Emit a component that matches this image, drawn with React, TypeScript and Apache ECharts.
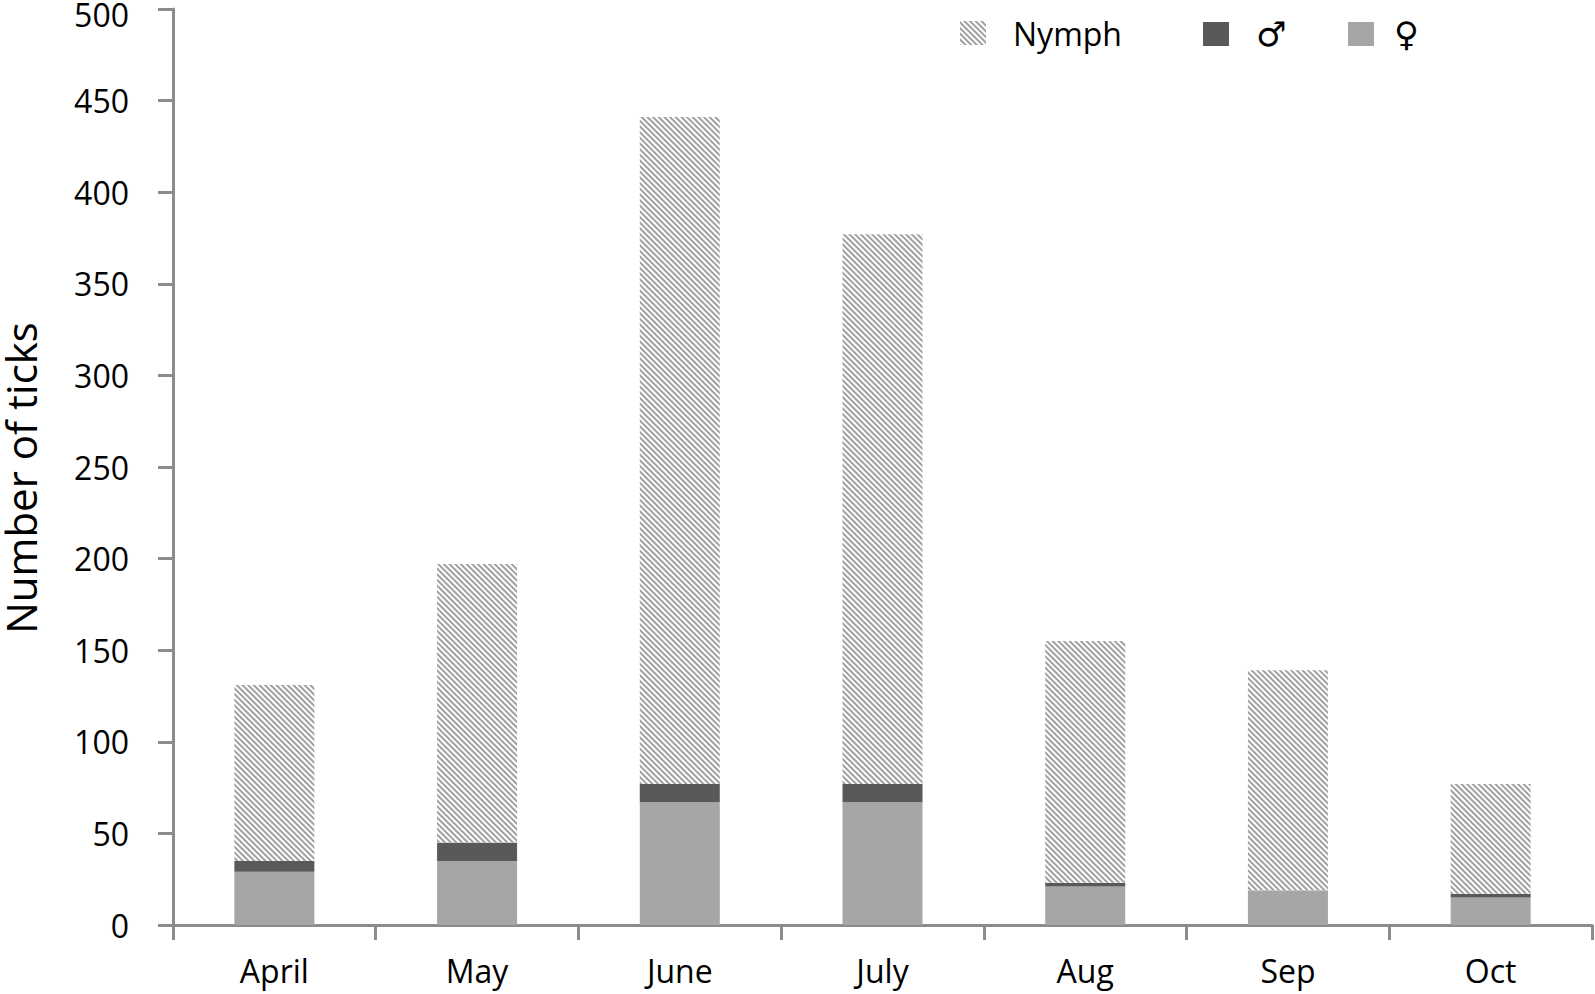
import React, { useEffect, useRef } from "react";
import * as echarts from "echarts";

const categories = ["April", "May", "June", "July", "Aug", "Sep", "Oct"];
const female = [29, 35, 67, 67, 21, 19, 15];
const male = [6, 10, 10, 10, 2, 0, 2];
const nymph = [96, 152, 364, 300, 132, 120, 60];
const legendNames = ["Nymph", "♂", "♀"];
const legendLefts = [955, 1198, 1343];

const FONT = "Open Sans";
const AXIS_COLOR = "#8c8c8c";

export default function App() {
  const ref = useRef<HTMLDivElement>(null);
  useEffect(() => {
    if (!ref.current) return;
    const chart = echarts.init(ref.current, null, { renderer: "svg" });
    const richStyles = {
      n: { fontSize: 32, fontFamily: FONT, color: "#000", padding: [0, 0, 0, 22] },
      m: { fontSize: 34, fontFamily: "DejaVu Sans", color: "#000", padding: [0, 0, 0, 22] },
      f: { fontSize: 34, fontFamily: "DejaVu Sans", color: "#000", padding: [0, 0, 0, 15] },
    };
    chart.setOption({
      animation: false,
      backgroundColor: "#ffffff",
      textStyle: { fontFamily: FONT, color: "#000" },
      grid: {
        left: 173,
        right: 3,
        top: 9,
        bottom: 69,
        containLabel: false,
        outerBoundsMode: "none",
      },
      legend: legendNames.map((name, i) => ({
        data: [name],
        left: legendLefts[i],
        top: 12,
        itemWidth: 26,
        itemHeight: 24,
        icon: "rect",
        formatter: (n: string) =>
          n === "Nymph" ? `{n|${n}}` : n === "♂" ? `{m|${n}}` : `{f|${n}}`,
        textStyle: { fontSize: 32, fontFamily: FONT, color: "#000", rich: richStyles },
      })),
      xAxis: {
        type: "category",
        data: categories,
        axisLine: { show: true, lineStyle: { color: AXIS_COLOR, width: 3 } },
        axisTick: { show: true, length: 15, lineStyle: { color: AXIS_COLOR, width: 3 } },
        axisLabel: { fontSize: 32, color: "#000", margin: 29, fontFamily: FONT },
      },
      yAxis: {
        type: "value",
        min: 0,
        max: 500,
        interval: 50,
        name: "Number of ticks",
        nameLocation: "middle",
        nameRotate: 90,
        nameGap: 136,
        nameTextStyle: {
          fontSize: 42,
          lineHeight: 34,
          color: "#000",
          fontFamily: FONT,
          padding: [0, 22, 0, 0],
        },
        splitLine: { show: false },
        axisLine: { show: true, lineStyle: { color: AXIS_COLOR, width: 3 } },
        axisTick: { show: true, length: 15, lineStyle: { color: AXIS_COLOR, width: 3 } },
        axisLabel: {
          fontSize: 32,
          color: "#000",
          margin: 44,
          fontFamily: FONT,
          formatter: (v: number) => (v === 500 ? `{top|${v}}` : `${v}`),
          rich: {
            top: {
              fontSize: 32,
              lineHeight: 26,
              color: "#000",
              fontFamily: FONT,
              padding: [11, 0, 0, 0],
            },
          },
        },
      },
      series: [
        {
          name: "♀",
          type: "bar",
          stack: "total",
          data: female,
          barWidth: 80,
          itemStyle: { color: "#a6a6a6" },
        },
        {
          name: "♂",
          type: "bar",
          stack: "total",
          data: male,
          barWidth: 80,
          itemStyle: { color: "#595959" },
        },
        {
          name: "Nymph",
          type: "bar",
          stack: "total",
          data: nymph,
          barWidth: 80,
          itemStyle: {
            color: "#ffffff",
            decal: {
              symbol: "rect",
              symbolSize: 1,
              dashArrayX: [[1, 0]],
              dashArrayY: [2, 2],
              rotation: Math.PI / 4,
              color: "#a0a0a0",
            },
          },
        },
      ],
    });
    return () => chart.dispose();
  }, []);
  return (
    <div
      ref={ref}
      style={{ position: "absolute", left: 0, top: 0, width: 1595, height: 994 }}
    />
  );
}
